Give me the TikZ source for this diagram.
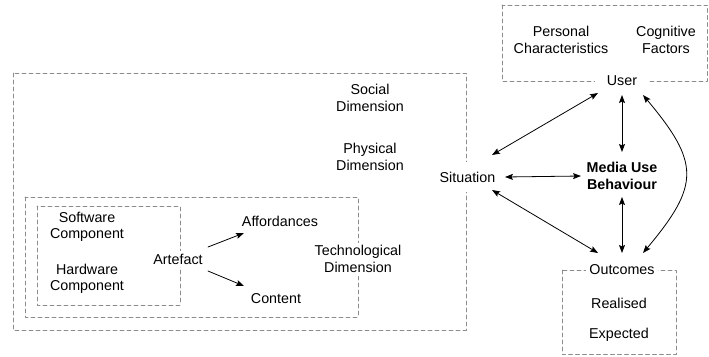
\documentclass[tikz,border=0pt]{standalone}
\usepackage{fontspec}
\setmainfont{Liberation Sans}
\usetikzlibrary{arrows.meta}
\begin{document}
\begin{tikzpicture}[x=1pt,y=-1pt,line join=round,line cap=round,
  font=\fontsize{14.3}{16.5}\selectfont,
  >={Stealth[length=8pt,width=6pt,inset=1.5pt]},
  box/.style={draw=black!45,line width=0.8pt,dash pattern=on 4pt off 3pt},
  edge/.style={fill=white,inner sep=3pt},
  link/.style={<->,line width=0.8pt}]
			\useasboundingbox (0,0) rectangle (709,356);
			% dashed frames
			\draw[box] (13,73) rectangle (466,330);
			\draw[box] (25,197) rectangle (358,317);
			\draw[box] (37,206) rectangle (180,305);
			\draw[box] (502,5) rectangle (707.5,81);
			\draw[box] (562,270) rectangle (676,354.5);
			% labels on the frames
			\node[edge,inner ysep=10pt] (sit) at (467.5,177) {Situation};
			\node[edge,inner xsep=12pt] (user) at (622,81) {User};
			\node[edge] (out) at (622,270) {Outcomes};
			\node[edge] (art) at (178,259) {Artefact};
			\node[edge,align=center] (tech) at (358,259) {Technological\\Dimension};
			\node[font=\fontsize{14.3}{16.5}\selectfont\bfseries,align=center] (mub) at (622,176) {Media Use\\Behaviour};
			% plain labels
			\foreach \x/\y/\n/\t in {370/98/soc/{Social\\Dimension},370/157/phys/{Physical\\Dimension},
				87/227/soft/{Software\\Component},87/279/hard/{Hardware\\Component},
				561/40/pers/{Personal\\Characteristics},666/40/cogn/{Cognitive\\Factors},
				280/221/aff/Affordances,276/299/con/Content,619/303/real/Realised,619/335/exp/Expected}
				{\node[align=center] (\n) at (\x,\y) {\t};}
			% connectors
			\draw[link] ([shift={(24.5,-22)}]sit.center) -- ([shift={(-24,12)}]user.center);
			\draw[link] ([shift={(0,14)}]user.center) -- ([shift={(0,-24)}]mub.center);
			\draw[link] ([shift={(37.5,0)}]sit.center) -- ([shift={(-41,0)}]mub.center);
			\draw[link] ([shift={(24.5,13)}]sit.center) -- ([shift={(-24,-17)}]out.center);
			\draw[link] ([shift={(0,21)}]mub.center) -- ([shift={(0,-17)}]out.center);
			\draw[link] ([shift={(21,14)}]user.center) .. controls (700,163) and (700,185) .. ([shift={(21,-17)}]out.center);
			\draw[->,line width=0.8pt] ([shift={(30,-12)}]art.center) -- ([shift={(-36,12)}]aff.center);
			\draw[->,line width=0.8pt] ([shift={(30,12)}]art.center) -- ([shift={(-32,-13)}]con.center);
\end{tikzpicture}
\end{document}
